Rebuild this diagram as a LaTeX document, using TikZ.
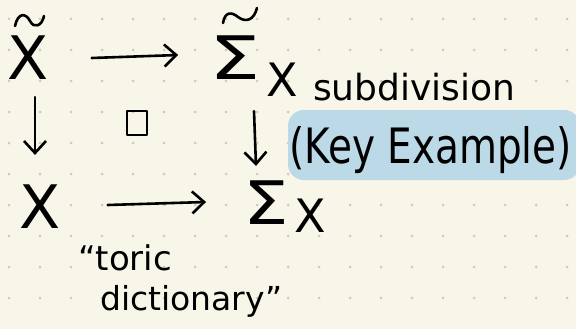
\documentclass[tikz,border=0pt]{standalone}
\usepackage{fontspec}
\setmainfont{DejaVu Sans}
\usetikzlibrary{arrows.meta}
\definecolor{paper}{HTML}{F8F5E9}
\definecolor{dotc}{HTML}{CDCAC0}
\definecolor{hl}{HTML}{BCD9E7}
\tikzset{
  ink/.style={line width=2.6pt, line cap=round, line join=round, draw=black},
  arr/.style={ink, -{Straight Barb[length=12pt,width=22pt]}},
  big/.style={inner sep=0pt, font=\fontsize{60}{60}\selectfont},
  sub/.style={inner sep=0pt, font=\fontsize{46}{46}\selectfont},
  hand/.style={inner sep=0pt, font=\fontsize{36}{36}\selectfont},
}
\begin{document}
\begin{tikzpicture}[x=1pt,y=-1pt]
\fill[paper] (0,0) rectangle (576,329);
\useasboundingbox (0,0) rectangle (576,329);
\foreach \i in {0,...,18}{\foreach \j in {0,...,9}{\fill[dotc] (9+31*\i,19+31*\j) circle (1.5pt);}}
% highlight
\node (hlbox) [fill=hl, rounded corners=16pt, minimum width=292pt, minimum height=70pt, inner sep=0pt] at (434,145) {};
% top row
\node (Xt) [big] at (28,58) {X};
\draw[ink] (15,26) .. controls (18,12) and (26,13) .. (30,21) .. controls (34,29) and (42,26) .. (44,16);
\node (SigT) [big] at (235,58) {\scalebox{1.35}[1]{Σ}};
\node (SigTsub) [sub] at (282,80) {X};
\draw[ink] (223,23) .. controls (225,11) and (232,12) .. (238,17) .. controls (246,23) and (254,20) .. (257,8);
% bottom row
\node (Xb) [big] at (40,207) {X};
\node (SigB) [big] at (266,203) {\scalebox{1.2}[1]{Σ}};
\node (SigBsub) [sub] at (310,216) {X};
% square
\node (sq) [ink, minimum width=20pt, minimum height=24pt, inner sep=0pt] at (137,123) {};
% arrows
\draw[arr] ([xshift=43pt]Xt.east) -- ([xshift=-31pt,yshift=3pt]SigT.west);
\draw[arr] ([xshift=7pt,yshift=-17pt]Xt.south) -- ([xshift=-5pt,yshift=30pt]Xb.north);
\draw[arr] ([xshift=19pt,yshift=-31pt]SigT.south) -- ([xshift=-10pt,yshift=15pt]SigB.north);
\draw[arr] ([xshift=47pt,yshift=2pt]Xb.east) -- ([xshift=-37pt,yshift=1pt]SigB.west);
% texts
\node (subd) [hand, anchor=base west] at (313,100) {subdivision};
\node (key) [hand, font=\fontsize{39}{39}\selectfont, anchor=base west] at (289,163) {\scalebox{1}[1.25]{(Key Example)}};
\node (toric) [hand, font=\fontsize{34}{34}\selectfont, anchor=base west] at (78,270) {“toric};
\node (dict) [hand, font=\fontsize{33}{33}\selectfont, anchor=base west] at (100,310) {dictionary”};
\end{tikzpicture}
\end{document}
